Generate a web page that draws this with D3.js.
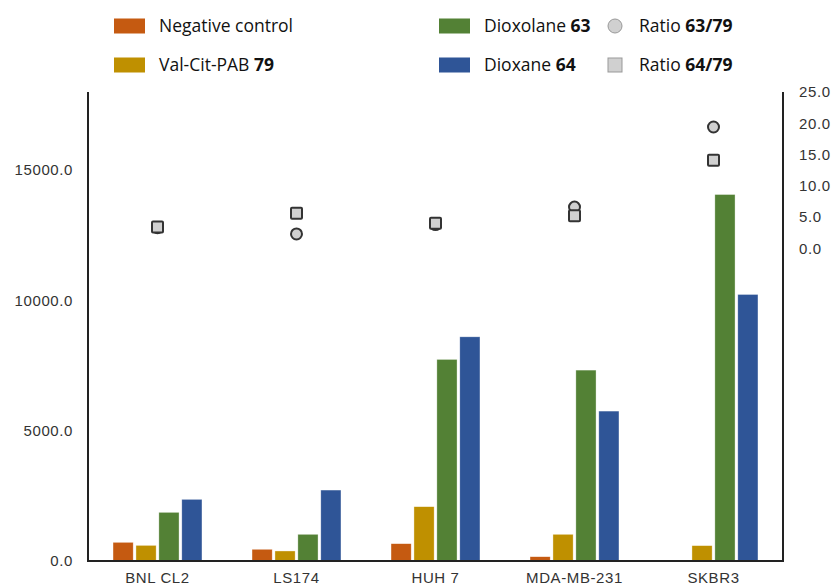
<!DOCTYPE html>
<html>
<head>
<meta charset="utf-8">
<script src="https://cdn.jsdelivr.net/npm/d3@7"></script>
<style>
  body { margin: 0; background: #fff; }
  .tick-label { font-family: "Liberation Sans", Arial, sans-serif; font-size: 15px; fill: #333; letter-spacing: 0.6px; }
  .legend text { font-family: "Open Sans", "Noto Sans", sans-serif; font-size: 17.5px; fill: #111; }
</style>
</head>
<body>
<div class="chart"></div>
<script>
// cell lines on the x axis
var cellLines = ["BNL CL2", "LS174", "HUH 7", "MDA-MB-231", "SKBR3"];

// bar series (left axis)
var negControl = [717, 450, 665, 165, 0];
var valCitPab79 = [600, 385, 2085, 1025, 590];
var dioxolane63 = [1868, 1025, 7737, 7327, 14066];
var dioxane64 = [2367, 2723, 8604, 5754, 10230];

// ratio series (right axis)
var ratio63 = [3.3, 2.3, 3.8, 6.6, 19.4];
var ratio64 = [3.4, 5.6, 4.0, 5.2, 14.1];

var leftTicks = [0, 5000, 10000, 15000];
var rightTicks = [0, 5, 10, 15, 20, 25];

var seriesNames = ["neg", "vcp", "dxl", "dxn"];
var colors = ["#C55A11", "#BF9000", "#538135", "#2F5597"];

var data = cellLines.map(function (c, i) {
    return {
        cat: c,
        values: [negControl[i], valCitPab79[i], dioxolane63[i], dioxane64[i]],
        r63: ratio63[i],
        r64: ratio64[i]
    };
});

var W = 836, H = 588;
var pLeft = 88, pRight = 783, pTop = 92, pBottom = 561;

var svg = d3.select(".chart").append("svg")
    .attr("width", W)
    .attr("height", H);

var x = d3.scaleBand()
    .domain(cellLines)
    .range([pLeft, pRight])
    .paddingInner(0.36)
    .paddingOuter(0.18);

var xSub = d3.scaleBand()
    .domain(seriesNames)
    .range([0, x.bandwidth()])
    .paddingInner(0.12);

var y = d3.scaleLinear().domain([0, 18000]).range([pBottom, pTop]);
var y2 = d3.scaleLinear().domain([-50, 25]).range([pBottom, pTop]);

// bars
var groups = svg.selectAll(".grp")
    .data(data)
    .enter()
    .append("g")
    .attr("class", "grp")
    .attr("transform", function (d) { return "translate(" + x(d.cat) + ",0)"; });

groups.selectAll("rect")
    .data(function (d) { return d.values; })
    .enter()
    .append("rect")
    .attr("x", function (d, i) { return xSub(seriesNames[i]); })
    .attr("y", function (d) { return y(d); })
    .attr("width", xSub.bandwidth())
    .attr("height", function (d) { return pBottom - y(d); })
    .attr("fill", function (d, i) { return colors[i]; })
    .attr("stroke", "#fff")
    .attr("stroke-opacity", 0.6)
    .attr("stroke-width", 0.6);

// axes
function styleAxis(g) {
    g.select(".domain").remove();
    g.selectAll("text").attr("class", "tick-label").attr("font-family", null).attr("font-size", null);
}

var yAxis = d3.axisLeft(y).tickValues(leftTicks).tickSize(0).tickPadding(15)
    .tickFormat(d3.format(".1f"));
svg.append("g").attr("transform", "translate(" + pLeft + ",0)").call(yAxis).call(styleAxis);

var y2Axis = d3.axisRight(y2).tickValues(rightTicks).tickSize(0).tickPadding(16)
    .tickFormat(d3.format(".1f"));
svg.append("g").attr("transform", "translate(" + pRight + ",0)").call(y2Axis).call(styleAxis);

var xAxis = d3.axisBottom(x).tickSize(0).tickPadding(11);
svg.append("g").attr("transform", "translate(0," + pBottom + ")").call(xAxis).call(styleAxis);

// axis lines
svg.append("path")
    .attr("d", "M" + pLeft + "," + pTop + "V" + pBottom + "H" + pRight + "V" + pTop)
    .attr("fill", "none")
    .attr("stroke", "#222")
    .attr("stroke-width", 2);

// ratio markers
var cx = function (d) { return x(d.cat) + x.bandwidth() / 2; };

svg.selectAll(".r63")
    .data(data)
    .enter()
    .append("circle")
    .attr("class", "r63")
    .attr("cx", cx)
    .attr("cy", function (d) { return y2(d.r63); })
    .attr("r", 5.5)
    .attr("fill", "#d0d0d0")
    .attr("stroke", "#333")
    .attr("stroke-width", 2);

svg.selectAll(".r64")
    .data(data)
    .enter()
    .append("rect")
    .attr("class", "r64")
    .attr("x", function (d) { return cx(d) - 5.5; })
    .attr("y", function (d) { return y2(d.r64) - 5.5; })
    .attr("width", 11)
    .attr("height", 11)
    .attr("rx", 1)
    .attr("fill", "#d0d0d0")
    .attr("stroke", "#333")
    .attr("stroke-width", 2);

// legend
var legendItems = [
    { kind: "bar", color: colors[0], x: 114, y: 26, name: "Negative control", bold: "" },
    { kind: "bar", color: colors[1], x: 114, y: 65, name: "Val-Cit-PAB ", bold: "79" },
    { kind: "bar", color: colors[2], x: 439, y: 26, name: "Dioxolane ", bold: "63" },
    { kind: "bar", color: colors[3], x: 439, y: 65, name: "Dioxane ", bold: "64" },
    { kind: "circle", x: 608, y: 26, name: "Ratio ", bold: "63/79" },
    { kind: "square", x: 608, y: 65, name: "Ratio ", bold: "64/79" }
];

var legend = svg.append("g").attr("class", "legend");
legendItems.forEach(function (it) {
    var g = legend.append("g").attr("transform", "translate(" + it.x + "," + it.y + ")");
    var tx;
    if (it.kind === "bar") {
        g.append("rect").attr("x", 0).attr("y", -7.5).attr("width", 31).attr("height", 15)
            .attr("fill", it.color);
        tx = 45;
    } else if (it.kind === "circle") {
        g.append("circle").attr("cx", 7).attr("cy", 0).attr("r", 7)
            .attr("fill", "#d0d0d0").attr("stroke", "#999").attr("stroke-width", 1);
        tx = 31;
    } else {
        g.append("rect").attr("x", 0).attr("y", -7).attr("width", 14).attr("height", 14)
            .attr("fill", "#d0d0d0").attr("stroke", "#999").attr("stroke-width", 1);
        tx = 31;
    }
    var t = g.append("text").attr("x", tx).attr("y", 0).attr("dy", "0.35em");
    t.append("tspan").text(it.name);
    if (it.bold) t.append("tspan").attr("font-weight", "bold").text(it.bold);
});
</script>
</body>
</html>
